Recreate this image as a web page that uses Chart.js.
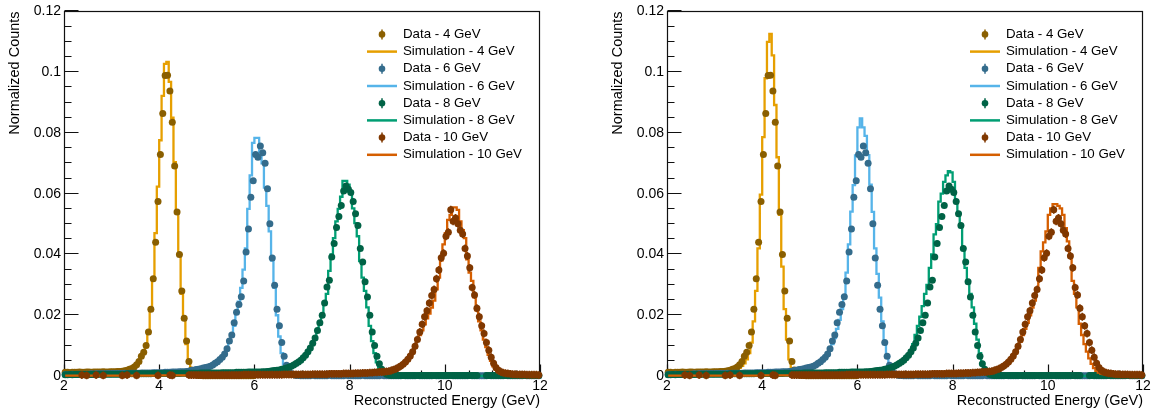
<!DOCTYPE html>
<html>
<head>
<meta charset="utf-8">
<script src="https://cdn.jsdelivr.net/npm/chart.js@4.4.1/dist/chart.umd.min.js"></script>
<style>
html, body { margin: 0; padding: 0; background: #fff; }
#wrap { position: relative; width: 1153px; height: 414px; }
canvas { position: absolute; top: 0; }
</style>
</head>
<body>
<div id="wrap">
<canvas id="left" width="603" height="414" style="left:0px"></canvas>
<canvas id="right" width="550" height="414" style="left:603px"></canvas>
</div>
<script>
// histogram binning: 200 bins of 0.05 GeV from 2 to 12
const binLow = 2
const binWidth = 0.05
// all counts below are in units of 1e-4
const unit = 1e-4

const xTicks = [2, 4, 6, 8, 10, 12]
const xTickLabels = ['2', '4', '6', '8', '10', '12']
const yTicks = [0, 0.02, 0.04, 0.06, 0.08, 0.1, 0.12]
const yTickLabels = ['0', '0.02', '0.04', '0.06', '0.08', '0.1', '0.12']

const energies = ['4', '6', '8', '10']

// measured data (same in both panels), 0 = empty bin
const data4 = [
12,12,11,12,12,12,13,12,12,13,13,12,13,13,13,13,14,13,13,14,
14,14,15,15,16,17,19,22,25,30,37,48,65,78,100,145,220,320,440,574,
729,864,989,990,938,835,691,540,400,280,190,115,48,20,8,4,2,2,1,1,
1,1,1,1,1,1,1,1,1,1,1,1,1,1,1,1,1,1,1,1,
0,0,0,0,0,0,0,0,0,0,0,0,0,0,0,0,0,0,0,0,
0,0,0,0,0,0,0,0,0,0,0,0,0,0,0,0,0,0,0,0,
0,0,0,0,0,0,0,0,0,0,0,0,0,0,0,0,0,0,0,0,
0,0,0,0,0,0,0,0,0,0,0,0,0,0,0,0,0,0,0,0,
0,0,0,0,0,0,0,0,0,0,0,0,0,0,0,0,0,0,0,0,
0,0,0,0,0,0,0,0,0,0,0,0,0,0,0,0,0,0,0,0]
const data6 = [
5,5,5,6,5,6,6,6,6,6,6,7,6,7,7,7,7,7,8,7,
8,8,8,8,8,9,8,9,9,9,9,9,10,10,10,10,10,11,11,11,
11,11,12,12,12,13,13,13,14,14,14,15,16,18,19,21,22,24,26,28,
30,32,36,42,47,54,62,72,90,115,135,175,210,235,261,313,408,484,588,643,
729,720,757,735,700,616,501,388,299,220,165,110,65,35,17,8,4,2,2,1,
1,1,1,1,0,1,1,1,1,1,1,0,1,1,1,1,1,1,0,1,
1,1,1,1,1,0,1,1,1,1,1,1,1,0,1,1,1,1,1,1,
1,1,0,1,1,1,1,1,0,1,1,1,1,1,1,0,1,1,1,1,
1,1,0,1,1,1,1,1,1,1,0,1,1,1,1,1,1,1,0,1,
1,1,1,1,1,0,1,1,1,1,1,1,1,0,1,1,1,1,1,1]
const data8 = [
4,4,5,4,5,5,5,5,5,5,5,5,6,5,6,6,6,6,6,6,
6,6,6,6,6,6,7,7,7,7,7,7,7,7,7,7,7,8,8,8,
8,8,8,8,8,8,8,8,8,9,9,9,9,9,9,9,9,10,10,10,
10,10,10,10,10,10,11,11,11,11,11,11,12,12,12,12,12,13,13,13,
13,13,13,14,14,15,16,17,18,19,20,22,24,26,29,32,36,41,46,52,
60,68,80,92,108,125,150,175,200,240,293,315,392,436,489,525,561,609,625,615,
604,574,534,495,420,375,310,260,200,145,100,65,40,22,12,6,3,2,2,2,
2,2,2,2,2,2,2,2,2,2,2,2,2,2,2,2,2,2,2,2,
2,2,2,2,2,2,2,2,2,2,2,2,2,2,0,0,0,2,2,2,
2,2,2,2,2,2,2,2,2,2,2,2,2,2,2,2,2,2,2,2]
const data10 = [
0,0,0,0,0,0,0,3,0,2,0,0,0,3,0,0,2,0,0,0,
0,0,0,0,2,0,3,0,0,0,2,0,0,0,0,0,0,0,0,2,
0,0,0,0,3,2,0,0,0,0,0,0,3,3,3,3,3,3,3,3,
3,3,3,3,3,3,3,3,3,3,3,3,3,3,3,4,4,4,4,4,
4,4,4,4,4,4,4,4,4,4,4,4,5,5,5,5,5,5,5,5,
5,5,5,5,6,6,6,6,6,6,6,7,7,7,7,7,7,8,8,8,
8,8,9,9,9,10,10,10,11,11,12,12,13,13,14,15,16,18,21,24,
28,33,39,46,55,66,80,98,120,145,170,195,215,240,265,285,320,349,389,404,
460,473,547,509,520,501,480,467,420,395,356,291,267,223,195,165,140,110,85,62,
42,28,19,14,11,9,8,7,6,6,5,5,5,5,4,4,4,4,4,3]
const dataErr = [7, 8, 9, 13]

// simulation, left panel
const sim4Left = [
11,12,12,12,12,12,12,13,13,13,13,13,13,13,13,14,14,14,14,14,
14,15,15,15,16,16,18,21,24,29,35,45,60,75,95,140,215,320,470,623,
776,922,1027,1034,968,850,704,540,400,270,185,105,47,18,7,3,1,0,0,0,
0,0,0,0,0,0,0,0,0,0,0,0,0,0,0,0,0,0,0,0,
0,0,0,0,0,0,0,0,0,0,0,0,0,0,0,0,0,0,0,0,
0,0,0,0,0,0,0,0,0,0,0,0,0,0,0,0,0,0,0,0,
0,0,0,0,0,0,0,0,0,0,0,0,0,0,0,0,0,0,0,0,
0,0,0,0,0,0,0,0,0,0,0,0,0,0,0,0,0,0,0,0,
0,0,0,0,0,0,0,0,0,0,0,0,0,0,0,0,0,0,0,0,
0,0,0,0,0,0,0,0,0,0,0,0,0,0,0,0,0,0,0,0]
const sim6Left = [
5,5,5,5,5,6,6,6,6,6,6,6,6,7,7,7,7,7,7,7,
8,8,8,8,8,8,8,9,9,9,9,9,10,10,10,10,10,11,11,11,
11,11,12,12,12,13,13,13,14,14,14,15,16,17,19,20,22,24,26,28,
30,32,36,41,46,53,61,72,88,110,130,165,205,245,290,350,420,550,660,767,
784,784,730,700,620,560,476,380,290,200,130,75,38,18,8,4,2,1,0,0,
0,0,0,0,0,0,0,0,0,0,0,0,0,0,0,0,0,0,0,0,
0,0,0,0,0,0,0,0,0,0,0,0,0,0,0,0,0,0,0,0,
0,0,0,0,0,0,0,0,0,0,0,0,0,0,0,0,0,0,0,0,
0,0,0,0,0,0,0,0,0,0,0,0,0,0,0,0,0,0,0,0,
0,0,0,0,0,0,0,0,0,0,0,0,0,0,0,0,0,0,0,0]
const sim8Left = [
4,4,4,5,5,5,5,5,5,5,5,5,5,6,6,6,6,6,6,6,
6,6,6,6,6,6,7,7,7,7,7,7,7,7,7,7,8,8,8,8,
8,8,8,8,8,8,8,8,9,9,9,9,9,9,9,9,10,10,10,10,
10,10,10,10,10,11,11,11,11,11,11,12,12,12,12,12,13,13,13,13,
13,13,14,14,14,15,16,17,18,19,20,22,24,26,29,32,36,41,46,51,
58,66,77,90,105,122,145,170,195,240,270,346,400,454,509,550,590,642,642,630,
601,552,503,460,378,324,280,226,165,115,75,45,25,13,6,3,1,0,0,0,
0,0,0,0,0,0,0,0,0,0,0,0,0,0,0,0,0,0,0,0,
0,0,0,0,0,0,0,0,0,0,0,0,0,0,0,0,0,0,0,0,
0,0,0,0,0,0,0,0,0,0,0,0,0,0,0,0,0,0,0,0]
const sim10Left = [
1,1,1,1,1,1,1,1,1,1,1,1,1,1,1,1,1,1,1,1,
1,1,1,1,1,1,1,1,1,1,1,1,1,1,1,1,1,1,1,1,
2,2,2,2,2,2,2,2,2,2,2,2,2,2,2,2,2,2,2,2,
2,2,2,2,2,2,2,2,2,3,3,3,3,3,3,3,3,3,3,3,
3,3,4,4,4,4,4,4,4,4,5,5,5,5,5,5,5,5,6,6,
5,5,5,5,6,6,6,6,6,6,6,7,7,7,7,7,7,8,8,8,
8,8,9,9,9,10,10,10,11,11,12,12,13,13,14,15,16,18,21,24,
28,33,39,46,55,66,80,98,120,135,150,170,190,205,225,248,285,324,380,433,
470,514,530,555,555,547,509,480,454,384,340,313,259,215,180,150,120,95,70,50,
32,20,13,9,7,5,4,4,3,3,3,3,2,2,2,2,2,2,2,2]

// simulation, right panel
const sim4Right = [
11,12,12,12,12,12,12,13,13,13,13,13,13,13,13,14,14,14,14,14,
14,15,15,15,16,16,17,18,20,23,27,33,42,55,75,110,180,280,420,597,
786,980,1100,1126,1055,892,720,530,360,220,120,55,22,9,4,2,1,0,0,0,
0,0,0,0,0,0,0,0,0,0,0,0,0,0,0,0,0,0,0,0,
0,0,0,0,0,0,0,0,0,0,0,0,0,0,0,0,0,0,0,0,
0,0,0,0,0,0,0,0,0,0,0,0,0,0,0,0,0,0,0,0,
0,0,0,0,0,0,0,0,0,0,0,0,0,0,0,0,0,0,0,0,
0,0,0,0,0,0,0,0,0,0,0,0,0,0,0,0,0,0,0,0,
0,0,0,0,0,0,0,0,0,0,0,0,0,0,0,0,0,0,0,0,
0,0,0,0,0,0,0,0,0,0,0,0,0,0,0,0,0,0,0,0]
const sim6Right = [
5,5,5,5,5,6,6,6,6,6,6,6,6,7,7,7,7,7,7,7,
8,8,8,8,8,8,8,9,9,9,9,9,10,10,10,10,10,11,11,11,
11,11,12,12,12,13,13,13,14,14,14,15,16,17,19,20,22,24,26,28,
30,32,36,41,46,53,60,70,85,105,125,155,185,220,260,340,433,541,628,726,
818,848,818,790,727,630,540,420,336,258,180,110,60,28,12,5,2,1,0,0,
0,0,0,0,0,0,0,0,0,0,0,0,0,0,0,0,0,0,0,0,
0,0,0,0,0,0,0,0,0,0,0,0,0,0,0,0,0,0,0,0,
0,0,0,0,0,0,0,0,0,0,0,0,0,0,0,0,0,0,0,0,
0,0,0,0,0,0,0,0,0,0,0,0,0,0,0,0,0,0,0,0,
0,0,0,0,0,0,0,0,0,0,0,0,0,0,0,0,0,0,0,0]
const sim8Right = [
4,4,4,5,5,5,5,5,5,5,5,5,5,6,6,6,6,6,6,6,
6,6,6,6,6,6,7,7,7,7,7,7,7,7,7,7,8,8,8,8,
8,8,8,8,8,8,8,8,9,9,9,9,9,9,9,9,10,10,10,10,
10,10,10,10,10,11,11,11,11,11,11,12,12,12,12,12,13,13,13,13,
13,13,14,14,14,15,16,17,18,19,20,22,24,26,29,32,36,41,46,51,
60,70,85,105,135,165,195,230,270,300,356,400,466,500,574,600,639,660,674,670,
639,574,530,490,422,356,313,270,226,172,120,75,42,22,11,5,2,0,0,0,
0,0,0,0,0,0,0,0,0,0,0,0,0,0,0,0,0,0,0,0,
0,0,0,0,0,0,0,0,0,0,0,0,0,0,0,0,0,0,0,0,
0,0,0,0,0,0,0,0,0,0,0,0,0,0,0,0,0,0,0,0]
const sim10Right = [
1,1,1,1,1,1,1,1,1,1,1,1,1,1,1,1,1,1,1,1,
1,1,1,1,1,1,1,1,1,1,1,1,1,1,1,1,1,1,1,1,
2,2,2,2,2,2,2,2,2,2,2,2,2,2,2,2,2,2,2,2,
2,2,2,2,2,2,2,2,2,3,3,3,3,3,3,3,3,3,3,3,
3,3,4,4,4,4,4,4,4,4,5,5,5,5,5,5,5,5,6,6,
5,5,5,5,6,6,6,6,6,6,6,7,7,7,7,7,7,8,8,8,
8,8,9,9,9,10,10,10,11,11,12,12,13,13,14,15,16,18,21,24,
26,31,37,44,52,62,75,92,112,135,155,175,200,225,248,290,356,410,440,476,
530,552,566,566,560,552,530,487,443,390,313,270,226,172,135,105,80,58,40,26,
17,11,8,6,5,4,4,3,3,3,3,2,2,2,2,2,2,2,2,2]

const simColors = ['#E69F00', '#56B4E9', '#009E73', '#D55E00']
const dataColors = ['#8A5F00', '#346C8C', '#006346', '#803800']

const FONT = '"Liberation Sans", Arial, Helvetica, sans-serif'
Chart.defaults.font.family = FONT
Chart.defaults.color = '#000'

function binCenter(i) {
    return binLow + binWidth * (i + 0.5)
}

function histDataset(label, values, color) {
    return {
        type: 'line',
        label: label,
        data: values.map((v, i) => ({x: binCenter(i), y: v * unit})),
        borderColor: color,
        backgroundColor: color,
        borderWidth: 2.3,
        stepped: 'middle',
        pointRadius: 0,
        fill: false,
        clip: false
    }
}

function pointDataset(label, values, err, color) {
    let pts = []
    for (let i = 0; i < values.length; i++) {
        // empty bins are not drawn
        if (values[i] > 0) pts.push({x: binCenter(i), y: values[i] * unit})
    }
    return {
        type: 'scatter',
        label: label,
        data: pts,
        backgroundColor: color,
        borderColor: color,
        pointRadius: 3.5,
        pointBorderWidth: 0,
        showLine: false,
        clip: false,
        errBar: err * unit
    }
}

const framePlugin = {
    id: 'frame',
    beforeDatasetsDraw(chart) {
        const ctx = chart.ctx
        const a = chart.chartArea
        const xs = chart.scales.x, ys = chart.scales.y
        const L = Math.round(a.left) + 0.5, R = Math.round(a.right) - 0.5
        const T = Math.round(a.top) + 0.5, B = Math.round(a.bottom) - 0.5
        ctx.save()
        ctx.strokeStyle = '#111'
        ctx.lineWidth = 1.2
        ctx.strokeRect(L, T, R - L, B - T)
        ctx.beginPath()
        for (let k = 0; k <= 24; k++) {
            const py = Math.round(ys.getPixelForValue(k * 0.005)) - 0.5
            const len = k % 4 == 0 ? 14 : 7
            ctx.moveTo(L, py)
            ctx.lineTo(L + len, py)
        }
        for (let k = 0; k <= 20; k++) {
            const px = Math.round(xs.getPixelForValue(2 + k * 0.5)) + 0.5
            const len = k % 4 == 0 ? 11 : 5
            ctx.moveTo(px, B)
            ctx.lineTo(px, B - len)
        }
        ctx.stroke()
        ctx.restore()
    }
}

const errorBarPlugin = {
    id: 'errorBars',
    afterDatasetDraw(chart, args) {
        const ds = chart.data.datasets[args.index]
        if (!ds.errBar) return
        const ctx = chart.ctx
        const ys = chart.scales.y
        ctx.save()
        ctx.strokeStyle = ds.borderColor
        ctx.lineWidth = 1.5
        ctx.beginPath()
        args.meta.data.forEach((pt, k) => {
            const v = ds.data[k].y
            ctx.moveTo(pt.x, ys.getPixelForValue(v - ds.errBar))
            ctx.lineTo(pt.x, ys.getPixelForValue(v + ds.errBar))
        })
        ctx.stroke()
        ctx.restore()
    }
}

const legendPlugin = {
    id: 'boxLegend',
    afterDraw(chart) {
        const ctx = chart.ctx
        const a = chart.chartArea
        ctx.save()
        ctx.font = '13.3px ' + FONT
        ctx.textBaseline = 'middle'
        for (let i = 0; i < energies.length; i++) {
            for (let j = 0; j < 2; j++) {
                const row = i * 2 + j
                const yy = a.top + 23 + row * 17.2
                const cx = a.left + 318
                if (j == 0) {
                    ctx.fillStyle = dataColors[i]
                    ctx.strokeStyle = dataColors[i]
                    ctx.lineWidth = 1.5
                    ctx.beginPath()
                    ctx.moveTo(cx, yy - 5)
                    ctx.lineTo(cx, yy + 5)
                    ctx.stroke()
                    ctx.beginPath()
                    ctx.arc(cx, yy, 3.3, 0, Math.PI * 2)
                    ctx.fill()
                } else {
                    ctx.strokeStyle = simColors[i]
                    ctx.lineWidth = 2.5
                    ctx.beginPath()
                    ctx.moveTo(cx - 15, yy)
                    ctx.lineTo(cx + 15, yy)
                    ctx.stroke()
                }
                ctx.fillStyle = '#000'
                const txt = (j == 0 ? 'Data - ' : 'Simulation - ') + energies[i] + ' GeV'
                ctx.fillText(txt, a.left + 339, yy)
            }
        }
        ctx.restore()
    }
}

function makePanel(canvasId, sims, padRight) {
    let datasets = []
    for (let i = 0; i < energies.length; i++) {
        datasets.push(histDataset('Simulation - ' + energies[i] + ' GeV', sims[i], simColors[i]))
        datasets.push(pointDataset('Data - ' + energies[i] + ' GeV', [data4, data6, data8, data10][i], dataErr[i], dataColors[i]))
    }
    // first one in the list ends up at the bottom
    datasets.forEach((d, k) => { d.order = datasets.length - k })

    const ctx = document.getElementById(canvasId).getContext('2d')
    return new Chart(ctx, {
        type: 'scatter',
        data: {datasets: datasets},
        options: {
            responsive: false,
            animation: false,
            devicePixelRatio: 1,
            events: [],
            layout: {padding: {left: 0, top: 8, right: padRight, bottom: 0}},
            plugins: {legend: {display: false}, tooltip: {enabled: false}},
            scales: {
                x: {
                    type: 'linear', min: 2, max: 12,
                    grid: {display: false, drawTicks: false},
                    border: {display: false},
                    afterBuildTicks: s => { s.ticks = xTicks.map(v => ({value: v})) },
                    afterFit: s => { s.height = 38 },
                    ticks: {
                        callback: (v, i) => xTickLabels[i],
                        padding: 2, maxRotation: 0, autoSkip: false,
                        color: '#000', font: {size: 14}
                    },
                    title: {
                        display: true, text: 'Reconstructed Energy (GeV)', align: 'end',
                        color: '#000', font: {size: 14.5}, padding: {top: 0, bottom: 4}
                    }
                },
                y: {
                    type: 'linear', min: 0, max: 0.12,
                    grid: {display: false, drawTicks: false},
                    border: {display: false},
                    afterBuildTicks: s => { s.ticks = yTicks.map(v => ({value: v})) },
                    afterFit: s => { s.width = 64 },
                    ticks: {
                        callback: (v, i) => yTickLabels[i],
                        padding: 3, autoSkip: false,
                        color: '#000', font: {size: 14}
                    },
                    title: {
                        display: true, text: 'Normalized Counts', align: 'end',
                        color: '#000', font: {size: 14.5}, padding: {top: 6, bottom: 0}
                    }
                }
            }
        },
        plugins: [framePlugin, errorBarPlugin, legendPlugin]
    })
}

makePanel('left', [sim4Left, sim6Left, sim8Left, sim10Left], 63)
makePanel('right', [sim4Right, sim6Right, sim8Right, sim10Right], 10)
</script>
</body>
</html>
